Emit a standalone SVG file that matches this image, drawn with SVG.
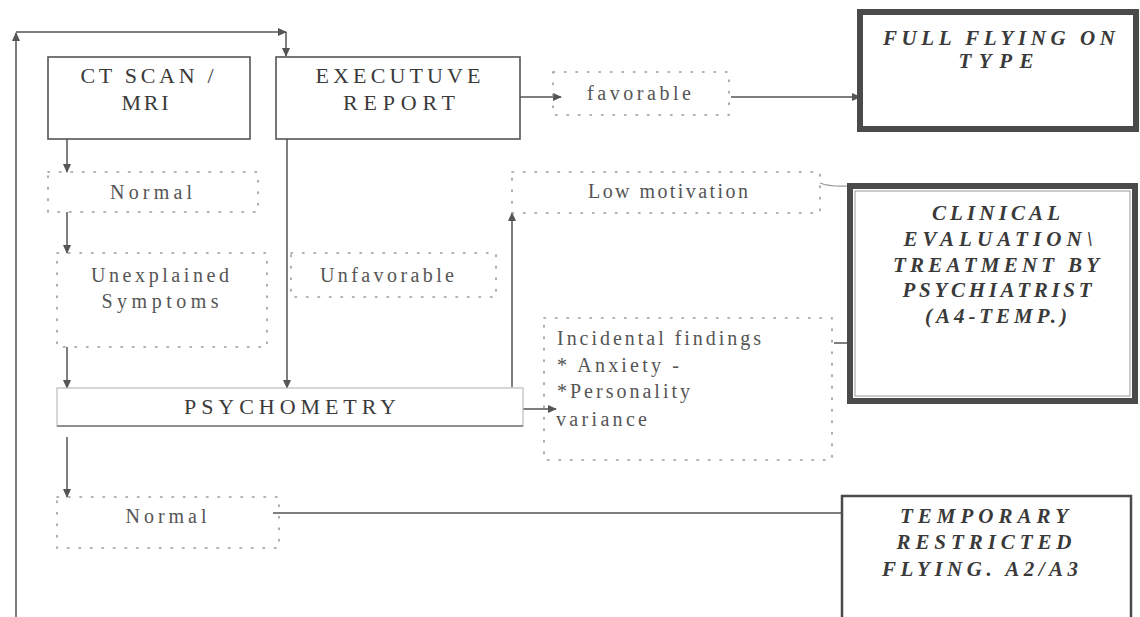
<svg xmlns="http://www.w3.org/2000/svg" width="1140" height="617" viewBox="0 0 1140 617">
<defs>
<style>
.bg{fill:#fff}
.solid{fill:#fff;stroke:#555;stroke-width:1.6}
.dot{fill:none;stroke:#999;stroke-width:1.6;stroke-dasharray:1.5 10;stroke-linecap:round}
.thick{fill:#fff;stroke:#4a4a4a;stroke-width:6}
.med{fill:#fff;stroke:#4a4a4a;stroke-width:2.5}
.cap{font-family:"Liberation Serif","DejaVu Serif",serif;font-size:22px;fill:#3a3a3a;text-anchor:middle}
.lab{font-family:"Liberation Serif","DejaVu Serif",serif;font-size:20px;fill:#555;text-anchor:middle}
.labl{font-family:"Liberation Serif","DejaVu Serif",serif;font-size:20px;fill:#555}
.it{font-family:"Liberation Serif","DejaVu Serif",serif;font-size:21px;font-style:italic;font-weight:bold;fill:#3a3a3a;text-anchor:middle}
.ln{fill:none;stroke:#555;stroke-width:1.5}
</style>
<marker id="ah" viewBox="0 0 10 10" refX="9" refY="5" markerWidth="9" markerHeight="9" markerUnits="userSpaceOnUse" orient="auto">
<path d="M0,0.5 L10,5 L0,9.5 Z" fill="#555"/>
</marker>
</defs>
<rect class="bg" x="0" y="0" width="1140" height="617"/>

<g id="connectors">
<path class="ln" d="M16,617 L16,33" marker-end="url(#ah)"/>
<path class="ln" d="M16,32 L286,32" marker-end="url(#ah)"/>
<path class="ln" d="M286,32 L286,56" marker-end="url(#ah)"/>
<path class="ln" d="M67,139 L67,172" marker-end="url(#ah)"/>
<path class="ln" d="M67,212 L67,253" marker-end="url(#ah)"/>
<path class="ln" d="M67,347 L67,388" marker-end="url(#ah)"/>
<path class="ln" d="M67,437 L67,497" marker-end="url(#ah)"/>
<path class="ln" d="M287,139 L287,388" marker-end="url(#ah)"/>
<path class="ln" d="M512,387 L512,213" marker-end="url(#ah)"/>
<path class="ln" d="M520,97 L561,97" marker-end="url(#ah)"/>
<path class="ln" d="M731,97 L860,97" marker-end="url(#ah)"/>
<path class="ln" d="M523,409 L556,409" marker-end="url(#ah)"/>
<path class="ln" d="M834,343 L859,343" marker-end="url(#ah)"/>
<path class="ln" d="M273,513 L849,513" marker-end="url(#ah)"/>
<path fill="none" stroke="#999" stroke-width="1.2" d="M820,183 Q830,187 849,186"/>
</g>

<g id="ct-scan">
<rect class="solid" x="48" y="57" width="202" height="82"/>
<text class="cap" x="147" y="83" textLength="133" lengthAdjust="spacing">CT SCAN /</text>
<text class="cap" x="145" y="110" textLength="47" lengthAdjust="spacing">MRI</text>
</g>

<g id="executive-report">
<rect class="solid" x="276" y="57" width="244" height="82"/>
<text class="cap" x="398" y="83" textLength="165" lengthAdjust="spacing">EXECUTUVE</text>
<text class="cap" x="399" y="110" textLength="112" lengthAdjust="spacing">REPORT</text>
</g>

<g id="favorable">
<rect class="dot" x="553" y="72" width="176" height="43"/>
<text class="lab" x="639" y="100" textLength="104" lengthAdjust="spacing">favorable</text>
</g>

<g id="full-flying">
<rect class="thick" x="860" y="12" width="276" height="117"/>
<text class="it" x="999" y="45" textLength="232" lengthAdjust="spacing">FULL FLYING ON</text>
<text class="it" x="996" y="68" textLength="75" lengthAdjust="spacing">TYPE</text>
</g>

<g id="normal-1">
<rect class="dot" x="48" y="172" width="210" height="40"/>
<text class="lab" x="151" y="199" textLength="82" lengthAdjust="spacing">Normal</text>
</g>

<g id="low-motivation">
<rect class="dot" x="512" y="172" width="308" height="41"/>
<text class="lab" x="668" y="198" textLength="160" lengthAdjust="spacing">Low motivation</text>
</g>

<g id="clinical">
<rect class="thick" x="850" y="186" width="285" height="215"/>
<rect fill="none" stroke="#999" stroke-width="1" x="855" y="191" width="275" height="205"/>
<text class="it" x="996" y="220" textLength="128" lengthAdjust="spacing">CLINICAL</text>
<text class="it" x="998" y="246" textLength="189" lengthAdjust="spacing">EVALUATION\</text>
<text class="it" x="996" y="272" textLength="206" lengthAdjust="spacing">TREATMENT BY</text>
<text class="it" x="997" y="297" textLength="189" lengthAdjust="spacing">PSYCHIATRIST</text>
<text class="it" x="996" y="323" textLength="142" lengthAdjust="spacing">(A4-TEMP.)</text>
</g>

<g id="unexplained">
<rect class="dot" x="57" y="253" width="210" height="94"/>
<text class="lab" x="160" y="282" textLength="138" lengthAdjust="spacing">Unexplained</text>
<text class="lab" x="160" y="308" textLength="117" lengthAdjust="spacing">Symptoms</text>
</g>

<g id="unfavorable">
<rect class="dot" x="291" y="253" width="205" height="44"/>
<text class="lab" x="387" y="282" textLength="134" lengthAdjust="spacing">Unfavorable</text>
</g>

<g id="psychometry">
<rect fill="#fff" stroke="#bbb" stroke-width="1.2" x="57" y="388" width="466" height="38"/>
<line x1="57" y1="426" x2="523" y2="426" stroke="#777" stroke-width="1.5"/>
<text class="cap" x="290" y="414" textLength="212" lengthAdjust="spacing">PSYCHOMETRY</text>
</g>

<g id="incidental">
<rect class="dot" x="544" y="318" width="288" height="142"/>
<text class="labl" x="557" y="345" textLength="204" lengthAdjust="spacing">Incidental findings</text>
<text class="labl" x="557" y="372" textLength="122" lengthAdjust="spacing">*  Anxiety -</text>
<text class="labl" x="557" y="398" textLength="133" lengthAdjust="spacing">*Personality</text>
<text class="labl" x="556" y="426" textLength="91" lengthAdjust="spacing">variance</text>
</g>

<g id="normal-2">
<rect class="dot" x="57" y="497" width="222" height="51"/>
<text class="lab" x="166" y="523" textLength="81" lengthAdjust="spacing">Normal</text>
</g>

<g id="temporary">
<rect class="med" x="842" y="496" width="289" height="130"/>
<text class="it" x="984" y="523" textLength="168" lengthAdjust="spacing">TEMPORARY</text>
<text class="it" x="984" y="549" textLength="175" lengthAdjust="spacing">RESTRICTED</text>
<text class="it" x="980" y="576" textLength="196" lengthAdjust="spacing">FLYING. A2/A3</text>
</g>
</svg>
